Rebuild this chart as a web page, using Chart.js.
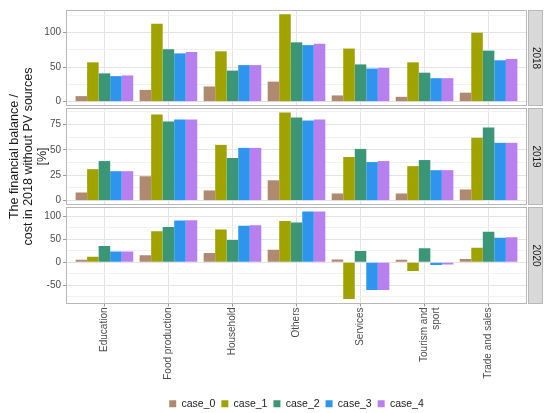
<!DOCTYPE html>
<html>
<head>
<meta charset="utf-8">
<script src="https://cdn.jsdelivr.net/npm/chart.js@4/dist/chart.umd.min.js"></script>
<style>
  html, body { margin: 0; padding: 0; background: #fff; }
  #wrap { position: relative; width: 550px; height: 413px; }
  #wrap canvas { position: absolute; left: 0; top: 0; }
</style>
</head>
<body>
<div id="wrap">
  <canvas id="panel2018" width="550" height="413"></canvas>
  <canvas id="panel2019" width="550" height="413"></canvas>
  <canvas id="panel2020" width="550" height="413"></canvas>
</div>
<script>
// categories and tick labels
const categories = ['Education', 'Food production', 'Household', 'Others', 'Services', 'Tourism and sport', 'Trade and sales'];
const tickLabels = ['Education', 'Food production', 'Household', 'Others', 'Services', ['Tourism and', 'sport'], 'Trade and sales'];
const years = ['2018', '2019', '2020'];
const series = ['case_0', 'case_1', 'case_2', 'case_3', 'case_4'];
const seriesColors = ['#b08a70', '#a0a200', '#3b9677', '#2e94ee', '#b880ee'];

// values, one row per series
const values2018 = [
    [8, 17, 22, 29, 9, 7, 13],
    [57, 113, 73, 126.6, 77, 57, 100],
    [41, 76, 45, 86, 54, 42, 74],
    [37, 70, 53, 82, 48, 34, 60],
    [38, 72, 53, 84, 49, 34, 62]
];
const values2019 = [
    [8, 24, 10, 20, 7, 7, 11],
    [31, 85, 55, 87, 43, 34, 62],
    [39, 78, 42, 82, 51, 40, 72],
    [29, 80, 52, 79, 38, 30, 57],
    [29, 80, 52, 80, 39, 30, 57]
];
const values2020 = [
    [5, 15, 20, 27, 6, 5, 7],
    [12, 67, 71, 89, -80, -19, 31],
    [35, 76, 48, 86, 24, 30, 66],
    [23, 90, 79, 110, -60, -6, 53],
    [23, 91, 80, 110, -60, -5, 54]
];
const valuesByYear = { '2018': values2018, '2019': values2019, '2020': values2020 };

// y tick breaks per facet (major, minor)
const majorTicks = { '2018': [0, 50, 100], '2019': [0, 25, 50, 75], '2020': [-50, 0, 50, 100] };
const minorTicks = { '2018': [25, 75, 125], '2019': [12.5, 37.5, 62.5, 87.5], '2020': [-75, -25, 25, 75] };

const FONT = "'Liberation Sans', Arial, sans-serif";
const majorGrid = '#e4e4e4';
const minorGrid = '#f2f2f2';

// ggplot-like 5% expansion of each facet's range
function facetRange(yr) {
    const all = valuesByYear[yr].flat().concat([0]);
    const lo = Math.min(...all), hi = Math.max(...all);
    const pad = (hi - lo) * 0.05;
    return [lo - pad, hi + pad];
}

// panel border and the year strip on the right
const facetFrame = {
    id: 'facetFrame',
    beforeDatasetsDraw(chart, args, opts) {
        const { ctx, chartArea } = chart;
        const left = Math.round(chartArea.left), right = Math.round(chartArea.right);
        const top = Math.round(chartArea.top), bottom = Math.round(chartArea.bottom);
        ctx.save();
        ctx.lineWidth = 1;
        ctx.strokeStyle = '#b8b8b8';
        ctx.strokeRect(left + 0.5, top + 0.5, right - left - 1, bottom - top - 1);
        const sx = right + 1.5;
        ctx.fillStyle = '#d9d9d9';
        ctx.fillRect(sx, top + 0.5, 14, bottom - top - 1);
        ctx.strokeRect(sx, top + 0.5, 14, bottom - top - 1);
        ctx.translate(sx + 7, (top + bottom) / 2);
        ctx.rotate(Math.PI / 2);
        ctx.fillStyle = '#1a1a1a';
        ctx.font = '10px ' + FONT;
        ctx.textAlign = 'center';
        ctx.textBaseline = 'middle';
        ctx.fillText(opts.year, 0, 0);
        ctx.restore();
    }
};

function makePanel(yr, panelTop, panelBottom, isLast, withTitle) {
    const [lo, hi] = facetRange(yr);
    const minors = minorTicks[yr];
    const majors = majorTicks[yr];

    const datasets = valuesByYear[yr].map((row, i) => ({
        label: series[i],
        data: row.map((v, k) => ({ x: k + 1, y: v })),
        backgroundColor: seriesColors[i],
        categoryPercentage: 0.9,
        barPercentage: 1.0
    }));

    return new Chart(document.getElementById('panel' + yr), {
        type: 'bar',
        data: { datasets: datasets },
        options: {
            responsive: false,
            animation: false,
            layout: {
                padding: isLast
                    ? { top: panelTop, right: 23, left: 0, bottom: -6 }
                    : { top: panelTop, right: 23, left: 0, bottom: 413 - panelBottom }
            },
            scales: {
                x: {
                    type: 'linear',
                    min: 0.4,
                    max: 7.6,
                    offset: false,
                    afterBuildTicks: function (ax) {
                        ax.ticks = categories.map((c, i) => ({ value: i + 1 }));
                    },
                    afterFit: function (ax) { ax.height = isLast ? 89 : 0; },
                    border: { display: false },
                    grid: { offset: false, color: majorGrid, tickColor: '#9a9a9a', tickLength: 3, drawTicks: isLast },
                    ticks: {
                        display: isLast,
                        autoSkip: false,
                        minRotation: 90,
                        maxRotation: 90,
                        padding: 1,
                        font: { family: FONT, size: 10 },
                        color: '#4d4d4d',
                        callback: v => tickLabels[v - 1]
                    }
                },
                y: {
                    type: 'linear',
                    position: 'left',
                    min: lo,
                    max: hi,
                    afterBuildTicks: function (ax) {
                        ax.ticks = majors.concat(minors).sort((a, b) => a - b).map(v => ({ value: v }));
                    },
                    afterFit: function (ax) { ax.width = 66; },
                    border: { display: false },
                    grid: {
                        color: c => minors.includes(c.tick.value) ? minorGrid : majorGrid,
                        tickColor: c => minors.includes(c.tick.value) ? 'rgba(0,0,0,0)' : '#9a9a9a',
                        tickLength: 3
                    },
                    ticks: {
                        autoSkip: false,
                        font: { family: FONT, size: 10 },
                        color: '#4d4d4d',
                        padding: 2,
                        callback: function (v) { return majors.includes(v) ? String(v) : ''; }
                    },
                    title: {
                        display: withTitle,
                        text: ['The financial balance /', 'cost in 2018 without PV sources', '[%]'],
                        font: { family: FONT, size: 12.5, lineHeight: 1.1 },
                        color: '#1a1a1a',
                        padding: { top: 8, bottom: 0 }
                    }
                }
            },
            plugins: {
                facetFrame: { year: yr },
                legend: {
                    display: isLast,
                    position: 'bottom',
                    fullSize: false,
                    labels: {
                        boxWidth: 7,
                        boxHeight: 7,
                        padding: 6,
                        color: '#1a1a1a',
                        font: { family: FONT, size: 10.5 }
                    }
                },
                tooltip: { enabled: false }
            }
        },
        plugins: [facetFrame]
    });
}

document.addEventListener('DOMContentLoaded', function () {
    makePanel('2018', 10, 106, false, false);
    makePanel('2019', 108, 205, false, true);
    makePanel('2020', 207, 303, true, false);
});
</script>
</body>
</html>
